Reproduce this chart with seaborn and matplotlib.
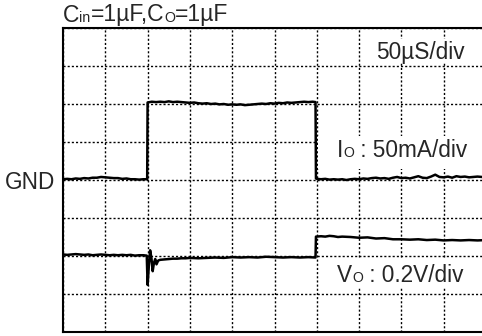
import pandas as pd
import matplotlib
matplotlib.use("Agg")
import matplotlib.pyplot as plt
from matplotlib.patches import Rectangle
import seaborn as sns

# 数据（单位：格 div），横轴 0..10 div，纵轴 -4..4 div，GND = 0
io_time = [0.0, 0.1, 0.2, 0.3, 0.4, 0.5, 0.6, 0.7, 0.8, 0.9, 1.0, 1.1, 1.2, 1.3, 1.4, 1.5, 1.6, 1.7, 1.8, 1.9, 1.99,
           2.0, 2.1, 2.2, 2.3, 2.4, 2.5, 2.6, 2.7, 2.8, 2.9, 3.0, 3.1, 3.2, 3.3, 3.4, 3.5, 3.6, 3.7, 3.8, 3.9,
           4.0, 4.1, 4.2, 4.3, 4.4, 4.5, 4.6, 4.7, 4.8, 4.9, 5.0, 5.1, 5.2, 5.3, 5.4, 5.5, 5.6, 5.7, 5.8, 5.9, 5.97,
           5.98, 6.0, 6.1, 6.2, 6.3, 6.4, 6.5, 6.6, 6.7, 6.8, 6.9, 7.0, 7.1, 7.2, 7.3, 7.4, 7.5, 7.6, 7.7, 7.8, 7.9,
           8.0, 8.1, 8.2, 8.3, 8.4, 8.5, 8.6, 8.7, 8.8, 8.9, 9.0, 9.1, 9.2, 9.3, 9.4, 9.5, 9.6, 9.7, 9.8, 9.9, 10.0]
io_level = [0.02, 0.03, 0.02, 0.04, 0.03, 0.05, 0.04, 0.06, 0.06, 0.08, 0.07, 0.06, 0.05, 0.05, 0.03, 0.04, 0.02, 0.02, 0.01, 0.02, 0.02,
            2.04, 2.06, 2.05, 2.06, 2.05, 2.07, 2.05, 2.06, 2.05, 2.04, 2.03, 2.04, 2.02, 2.01, 2.02, 2.00, 2.01, 1.99, 2.00, 1.98,
            1.99, 1.98, 1.99, 1.97, 1.98, 1.99, 2.00, 2.01, 2.00, 2.02, 2.01, 2.03, 2.02, 2.04, 2.03, 2.04, 2.05, 2.06, 2.05, 2.06, 2.05,
            0.04, 0.03, 0.02, 0.03, 0.01, 0.02, 0.01, 0.02, 0.00, 0.02, 0.03, 0.02, 0.04, 0.03, 0.05, 0.06, 0.04, 0.05, 0.03, 0.06, 0.08,
            0.05, 0.06, 0.04, 0.07, 0.10, 0.06, 0.05, 0.09, 0.14, 0.08, 0.07, 0.09, 0.06, 0.10, 0.08, 0.09, 0.07, 0.08, 0.09, 0.08, 0.08]

vo_time = [0.0, 0.1, 0.2, 0.3, 0.4, 0.5, 0.6, 0.7, 0.8, 0.9, 1.0, 1.1, 1.2, 1.3, 1.4, 1.5, 1.6, 1.7, 1.8, 1.9, 1.98,
           2.0, 2.03, 2.06, 2.09, 2.12, 2.15, 2.18, 2.21, 2.25, 2.3, 2.4, 2.5, 2.6, 2.7, 2.8, 2.9,
           3.0, 3.2, 3.4, 3.6, 3.8, 4.0, 4.2, 4.4, 4.6, 4.8, 5.0, 5.2, 5.4, 5.6, 5.8, 5.97,
           5.98, 6.1, 6.2, 6.3, 6.4, 6.5, 6.6, 6.8, 7.0, 7.2, 7.4, 7.6, 7.8, 8.0, 8.2, 8.4, 8.6, 8.8,
           9.0, 9.2, 9.4, 9.6, 9.8, 10.0]
vo_level = [-1.96, -1.97, -1.96, -1.95, -1.96, -1.97, -1.96, -1.98, -1.97, -1.96, -1.97, -1.98, -1.97, -1.98, -1.97, -1.98, -1.97, -1.99, -1.98, -1.98, -1.99,
            -2.76, -2.25, -1.85, -2.05, -2.40, -2.18, -2.08, -2.22, -2.12, -2.10, -2.09, -2.08, -2.07, -2.07, -2.06, -2.06,
            -2.05, -2.06, -2.05, -2.04, -2.05, -2.03, -2.04, -2.03, -2.04, -2.02, -2.03, -2.04, -2.03, -2.04, -2.03, -2.04,
            -1.49, -1.48, -1.49, -1.47, -1.48, -1.50, -1.49, -1.50, -1.52, -1.51, -1.54, -1.53, -1.56, -1.56, -1.57, -1.56, -1.58, -1.57,
            -1.59, -1.58, -1.59, -1.58, -1.59, -1.58]

sns.set_style("white")
plt.rcParams['font.family'] = ['Liberation Sans', 'DejaVu Sans']

W, H = 482, 336
fig = plt.figure(figsize=(W / 100, H / 100), dpi=100)
ax = fig.add_axes([63 / W, 4 / H, 423 / W, 304 / H])

df_io = pd.DataFrame({"t": io_time, "v": io_level})
df_vo = pd.DataFrame({"t": vo_time, "v": vo_level})
sns.lineplot(data=df_io, x="t", y="v", ax=ax, color="black", lw=1.8, sort=False, estimator=None, zorder=3)
sns.lineplot(data=df_vo, x="t", y="v", ax=ax, color="black", lw=1.8, sort=False, estimator=None, zorder=3)

ax.set_xlim(0, 10)
ax.set_ylim(-4, 4)
ax.set_xticks(range(11))
ax.set_yticks(range(-4, 5))
ax.tick_params(length=0, labelbottom=False, labelleft=False)
ax.set_xlabel("")
ax.set_ylabel("")
ax.grid(True, color="black", lw=1.0, linestyle=(0, (1.5, 1.5)))
ax.set_axisbelow(True)
for s in ax.spines.values():
    s.set_color("black")
    s.set_linewidth(1.5)

# 标注文字后面的白底（遮住网格线）
for (x0, y0, w, h) in [(7.25, 3.10, 2.4, 0.62), (6.03, 0.30, 4.0, 0.85), (6.25, -2.82, 3.8, 0.76)]:
    ax.add_patch(Rectangle((x0, y0), w, h, facecolor="white", edgecolor="none", zorder=2))


def rich(x, y, parts, fs=16.3):
    # 逐段写文字，小字号的 “in / O” 当作下标，像素坐标从左上角算
    r = fig.canvas.get_renderer()
    x = x / W
    for s, scale in parts:
        t = fig.text(x, 1 - y / H, s, fontsize=fs * scale, va="baseline", ha="left")
        x += t.get_window_extent(renderer=r).width / fig.bbox.width


rich(63, 21.5, [("C", 1), ("in", 0.62), ("=1µF,C", 1), ("O", 0.62), ("=1µF", 1)], fs=16.5)
rich(376, 59, [("50µS/div", 1)])
rich(337, 157, [("I", 1), ("O", 0.62), (" : 50mA/div", 1)])
rich(337, 281.5, [("V", 1), ("O", 0.62), (" : 0.2V/div", 1)])
fig.text(55 / W, 1 - 189 / H, "GND", fontsize=16.3, ha="right", va="baseline")

plt.savefig("out.png", dpi=100)
